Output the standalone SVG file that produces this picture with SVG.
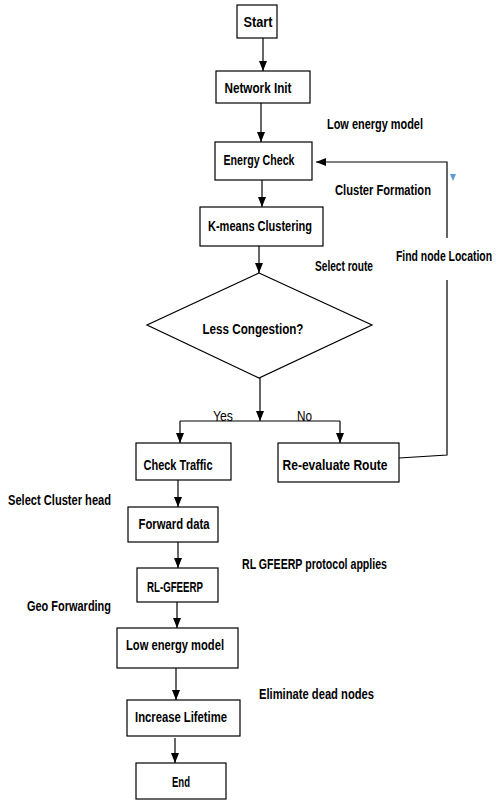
<svg xmlns="http://www.w3.org/2000/svg" width="496" height="800" viewBox="0 0 496 800">
<style>
.box{fill:#fff;stroke:#000;stroke-width:1.2}
.t{font-family:"Liberation Sans",Arial,sans-serif;font-weight:bold;font-size:14px;fill:#000}
.m{text-anchor:middle}
.n{font-family:"Liberation Sans",Arial,sans-serif;font-size:14px;fill:#000}
.c{fill:none;stroke:#000;stroke-width:1.2}
</style>
<defs>
<marker id="ah" markerUnits="userSpaceOnUse" markerWidth="10" markerHeight="10" viewBox="0 0 10 10" refX="10" refY="5" orient="auto">
<path d="M0,1 L10,5 L0,9 Z" fill="#000"/>
</marker>
</defs>
<rect width="496" height="800" fill="#fff"/>
<g id="connectors">
<path class="c" d="M263,38 V71" marker-end="url(#ah)"/>
<path class="c" d="M261,103 V142" marker-end="url(#ah)"/>
<path class="c" d="M262,180 V207" marker-end="url(#ah)"/>
<path class="c" d="M259,246 V273" marker-end="url(#ah)"/>
<path class="c" d="M260,378 V421" marker-end="url(#ah)"/>
<path class="c" d="M180,421 H340"/>
<path class="c" d="M180,421 V443" marker-end="url(#ah)"/>
<path class="c" d="M340,421 V443" marker-end="url(#ah)"/>
<path class="c" d="M399,458 L447,455 V280"/>
<path class="c" d="M447,238 V162 H316" marker-end="url(#ah)"/>
<path class="c" d="M178,480 V507" marker-end="url(#ah)"/>
<path class="c" d="M178,542 V568" marker-end="url(#ah)"/>
<path class="c" d="M177,602 V628" marker-end="url(#ah)"/>
<path class="c" d="M176,668 V700" marker-end="url(#ah)"/>
<path class="c" d="M175,738 V763" marker-end="url(#ah)"/>
<polygon points="450,174 456,174 453,181" fill="#5B9BD5"/>
<text class="n" x="213" y="421" textLength="20" lengthAdjust="spacingAndGlyphs">Yes</text>
<text class="n" x="297" y="421" textLength="15" lengthAdjust="spacingAndGlyphs">No</text>
</g>
<g id="start"><rect class="box" x="237" y="5" width="40" height="33"/><text class="t m" x="258" y="27" textLength="29" lengthAdjust="spacingAndGlyphs">Start</text></g>
<g id="network-init"><rect class="box" x="216" y="71" width="94" height="32"/><text class="t m" x="258" y="93" textLength="67" lengthAdjust="spacingAndGlyphs">Network Init</text></g>
<g id="energy-check"><rect class="box" x="215" y="142" width="97" height="38"/><text class="t m" x="259" y="165" textLength="71" lengthAdjust="spacingAndGlyphs">Energy Check</text></g>
<g id="kmeans"><rect class="box" x="200" y="207" width="123" height="39"/><text class="t m" x="260" y="231" textLength="104" lengthAdjust="spacingAndGlyphs">K-means Clustering</text></g>
<g id="decision"><polygon class="box" points="259,273 372,325 259,378 147,325"/><text class="t m" x="253" y="334" textLength="101" lengthAdjust="spacingAndGlyphs">Less Congestion?</text></g>
<g id="check-traffic"><rect class="box" x="136" y="443" width="95" height="37"/><text class="t m" x="178" y="470" textLength="69" lengthAdjust="spacingAndGlyphs">Check Traffic</text></g>
<g id="re-evaluate"><rect class="box" x="278" y="443" width="121" height="39"/><text class="t m" x="335" y="470" textLength="105" lengthAdjust="spacingAndGlyphs">Re-evaluate Route</text></g>
<g id="forward-data"><rect class="box" x="128" y="507" width="90" height="35"/><text class="t m" x="174" y="529" textLength="71" lengthAdjust="spacingAndGlyphs">Forward data</text></g>
<g id="rl-gfeerp"><rect class="box" x="137" y="568" width="81" height="34"/><text class="t m" x="175" y="592" textLength="56" lengthAdjust="spacingAndGlyphs">RL-GFEERP</text></g>
<g id="low-energy"><rect class="box" x="117" y="628" width="121" height="40"/><text class="t m" x="175" y="650" textLength="98" lengthAdjust="spacingAndGlyphs">Low energy model</text></g>
<g id="increase-lifetime"><rect class="box" x="127" y="700" width="113" height="36"/><text class="t m" x="181" y="722" textLength="92" lengthAdjust="spacingAndGlyphs">Increase Lifetime</text></g>
<g id="end"><rect class="box" x="136" y="763" width="90" height="36"/><text class="t m" x="181" y="787" textLength="18" lengthAdjust="spacingAndGlyphs">End</text></g>
<g id="labels">
<text class="t" x="327" y="129" textLength="96" lengthAdjust="spacingAndGlyphs">Low energy model</text>
<text class="t" x="335" y="195" textLength="96" lengthAdjust="spacingAndGlyphs">Cluster Formation</text>
<text class="t" x="315" y="271" textLength="58" lengthAdjust="spacingAndGlyphs">Select route</text>
<text class="t" x="396" y="261" textLength="96" lengthAdjust="spacingAndGlyphs">Find node Location</text>
<text class="t" x="8" y="505" textLength="103" lengthAdjust="spacingAndGlyphs">Select Cluster head</text>
<text class="t" x="242" y="569" textLength="145" lengthAdjust="spacingAndGlyphs">RL GFEERP protocol applies</text>
<text class="t" x="27" y="611" textLength="84" lengthAdjust="spacingAndGlyphs">Geo Forwarding</text>
<text class="t" x="259" y="699" textLength="115" lengthAdjust="spacingAndGlyphs">Eliminate dead nodes</text>
</g>
</svg>
